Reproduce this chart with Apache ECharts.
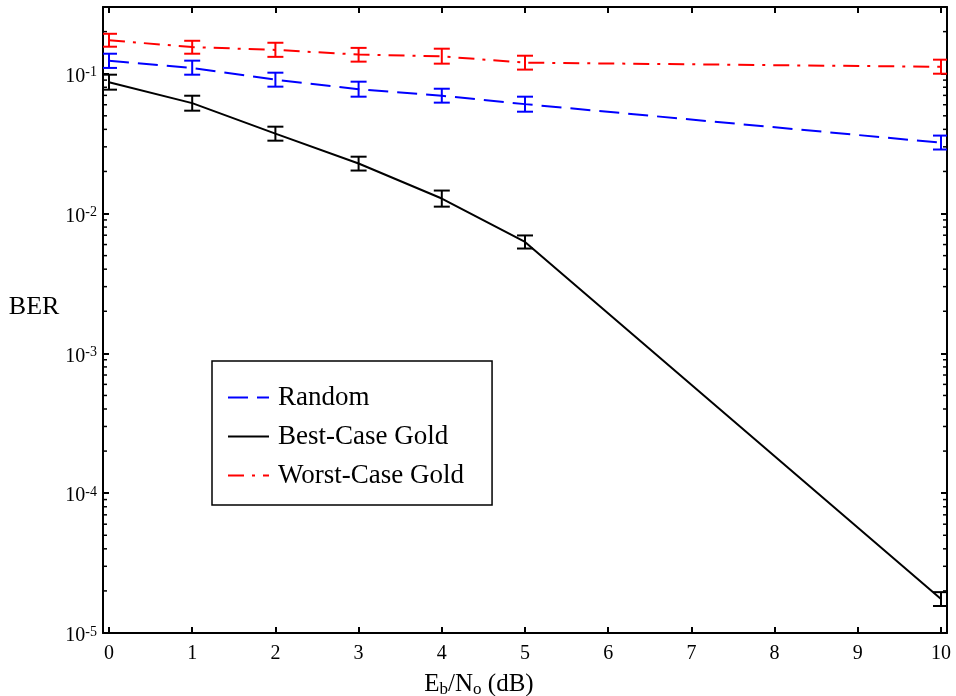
<!DOCTYPE html>
<html><head><meta charset="utf-8">
<script src="https://cdn.jsdelivr.net/npm/echarts@6/dist/echarts.min.js"></script>
<style>html,body{margin:0;padding:0;background:#fff}#c{width:956px;height:696px}</style>
</head><body><div id="c"></div>
<script>
// x values (Eb/No in dB)
const snr = [0, 1, 2, 3, 4, 5, 10];
// Random
const randomBer  = [0.124, 0.110, 0.0906, 0.0775, 0.0696, 0.0606, 0.0321];
const randomLow  = [0.110, 0.0984, 0.0808, 0.0685, 0.0621, 0.0535, 0.0287];
const randomHigh = [0.139, 0.124, 0.1017, 0.0877, 0.0781, 0.0685, 0.0361];
// Best-Case Gold
const bestBer  = [0.087, 0.0616, 0.0373, 0.0228, 0.0128, 0.00626, 1.75e-5];
const bestLow  = [0.0769, 0.0544, 0.0332, 0.0203, 0.0112, 0.00562, 1.56e-5];
const bestHigh = [0.0984, 0.0696, 0.0418, 0.0255, 0.0146, 0.00697, 1.96e-5];
// Worst-Case Gold
const worstBer  = [0.1735, 0.155, 0.148, 0.137, 0.133, 0.120, 0.112];
const worstLow  = [0.156, 0.139, 0.132, 0.122, 0.118, 0.107, 0.100];
const worstHigh = [0.193, 0.172, 0.1665, 0.153, 0.151, 0.1345, 0.126];
// minor tick layout of the log axis
const minorMultipliers = [2, 3, 4, 5, 6, 7, 8, 9];
const minorDecades = [-5, -4, -3, -2, -1];

const FONT = 'Liberation Serif';
const minorValues = [];
minorDecades.forEach(d => minorMultipliers.forEach(m => {
  const v = m * Math.pow(10, d);
  if (v < 0.3) minorValues.push(v);
}));

function pts(ys) { return snr.map((x, i) => [x, ys[i]]); }

function errSeries(name, low, high, color) {
  return {
    type: 'custom', name: name, silent: true, z: 4, clip: true,
    data: snr.map((x, i) => [x, low[i], high[i]]),
    encode: { x: 0, y: [1, 2] },
    renderItem: function (params, api) {
      const x = api.value(0);
      const lo = api.coord([x, api.value(1)]);
      const hi = api.coord([x, api.value(2)]);
      const w = 8;
      const st = { stroke: color, lineWidth: 2, fill: null };
      return { type: 'group', children: [
        { type: 'line', shape: { x1: lo[0], y1: lo[1], x2: hi[0], y2: hi[1] }, style: st },
        { type: 'line', shape: { x1: lo[0] - w, y1: lo[1], x2: lo[0] + w, y2: lo[1] }, style: st },
        { type: 'line', shape: { x1: hi[0] - w, y1: hi[1], x2: hi[0] + w, y2: hi[1] }, style: st }
      ]};
    }
  };
}

const xLabelFmt = v => Math.abs(v - Math.round(v)) < 1e-6 ? String(Math.round(v)) : '';
const yLabelFmt = v => {
  const e = Math.log10(v), r = Math.round(e);
  return Math.abs(e - r) < 1e-6 ? '{b|10}{s|' + r + '}' : '';
};

const axisLineStyle = { show: true, onZero: false, lineStyle: { color: '#000', width: 2 } };
const tickStyle = { show: true, inside: true, length: 6, lineStyle: { color: '#000', width: 2 } };

const option = {
  animation: false,
  backgroundColor: '#fff',
  grid: { left: 103, right: 9, top: 7, bottom: 63, containLabel: false, outerBoundsMode: 'none' },
  legend: {
    orient: 'vertical', left: 212, top: 361,
    padding: [23, 28, 16, 15], itemGap: 12,
    itemWidth: 41, itemHeight: 14,
    borderColor: '#000', borderWidth: 1.5, backgroundColor: '#fff',
    itemStyle: { opacity: 0, borderWidth: 0 },
    data: ['Random', 'Best-Case Gold', 'Worst-Case Gold'],
    textStyle: { fontFamily: FONT, fontSize: 27, color: '#000', padding: [0, 0, 0, 4] }
  },
  xAxis: [{
    type: 'value', min: -0.072, max: 10.072, splitNumber: 10, minInterval: 1, maxInterval: 1,
    axisLine: axisLineStyle, axisTick: tickStyle, splitLine: { show: false },
    axisLabel: { formatter: xLabelFmt, fontFamily: FONT, fontSize: 20, color: '#000', margin: 11 },
    name: '{m|E}{s|b}{m|/N}{s|o}{m| (dB)}', nameLocation: 'middle', nameGap: 37,
    nameTextStyle: {
      padding: [0, 92, 0, 0],
      rich: {
        m: { fontFamily: FONT, fontSize: 25, color: '#000', lineHeight: 28 },
        s: { fontFamily: FONT, fontSize: 17, color: '#000', lineHeight: 14, verticalAlign: 'bottom' }
      }
    }
  }, {
    type: 'value', position: 'top', min: -0.072, max: 10.072, splitNumber: 10, minInterval: 1, maxInterval: 1,
    axisLine: axisLineStyle, axisTick: tickStyle, splitLine: { show: false }, axisLabel: { show: false }
  }],
  yAxis: [{
    type: 'log', logBase: 10, min: 1e-5, max: 0.3,
    axisLine: axisLineStyle, axisTick: tickStyle, splitLine: { show: false }, minorTick: { show: false },
    axisLabel: {
      formatter: yLabelFmt, margin: 6, padding: [6, 0, 0, 0],
      rich: {
        b: { fontFamily: FONT, fontSize: 20, color: '#000', lineHeight: 22 },
        s: { fontFamily: FONT, fontSize: 14, color: '#000', lineHeight: 14, verticalAlign: 'top' }
      }
    },
    name: 'BER', nameLocation: 'middle', nameRotate: 0, nameGap: 38,
    nameTextStyle: { fontFamily: FONT, fontSize: 26, color: '#000', verticalAlign: 'bottom', padding: [0, 0, 0, 0] }
  }, {
    type: 'log', logBase: 10, min: 1e-5, max: 0.3, position: 'right',
    axisLine: axisLineStyle, axisTick: tickStyle, splitLine: { show: false }, axisLabel: { show: false }
  }],
  series: [
    {
      type: 'custom', name: 'minor', silent: true, z: 1,
      data: minorValues.map(v => [0, v]), encode: { x: 0, y: 1 },
      renderItem: function (params, api) {
        const p = api.coord([0, api.value(1)]);
        const cs = params.coordSys;
        const st = { stroke: '#000', lineWidth: 1.5 };
        return { type: 'group', children: [
          { type: 'line', shape: { x1: cs.x, y1: p[1], x2: cs.x + 4, y2: p[1] }, style: st },
          { type: 'line', shape: { x1: cs.x + cs.width, y1: p[1], x2: cs.x + cs.width - 4, y2: p[1] }, style: st }
        ]};
      }
    },
    { type: 'line', name: 'Random', data: pts(randomBer), symbol: 'none', z: 3,
      lineStyle: { color: '#0000ff', width: 2, type: [20, 9] }, itemStyle: { color: '#0000ff' } },
    { type: 'line', name: 'Best-Case Gold', data: pts(bestBer), symbol: 'none', z: 3,
      lineStyle: { color: '#000000', width: 2, type: 'solid' }, itemStyle: { color: '#000000' } },
    { type: 'line', name: 'Worst-Case Gold', data: pts(worstBer), symbol: 'none', z: 3,
      lineStyle: { color: '#ff0000', width: 2, type: [16, 8, 3, 8] }, itemStyle: { color: '#ff0000' } },
    errSeries('Random err', randomLow, randomHigh, '#0000ff'),
    errSeries('Best err', bestLow, bestHigh, '#000000'),
    errSeries('Worst err', worstLow, worstHigh, '#ff0000')
  ]
};
const chart = echarts.init(document.getElementById('c'), null, { renderer: 'canvas' });
chart.setOption(option);
</script></body></html>
